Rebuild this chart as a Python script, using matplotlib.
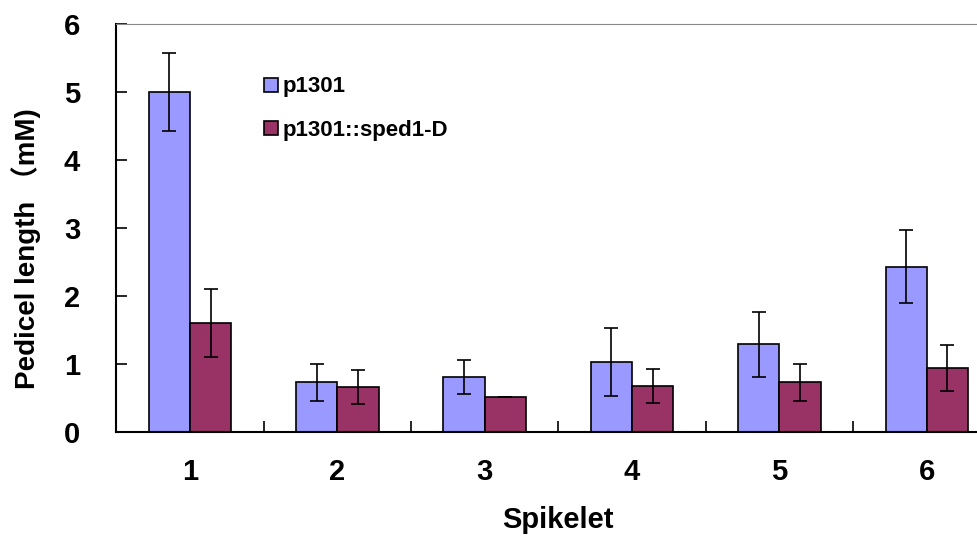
import matplotlib.pyplot as plt
import numpy as np

spikelets = ['1', '2', '3', '4', '5', '6']
p1301 = [5.0, 0.73, 0.81, 1.03, 1.29, 2.43]
p1301_err = [0.57, 0.27, 0.25, 0.50, 0.48, 0.54]
sped = [1.6, 0.66, 0.51, 0.68, 0.73, 0.94]
sped_err = [0.50, 0.25, 0.0, 0.25, 0.27, 0.34]

plt.rcParams['font.family'] = ['Liberation Sans', 'Noto Sans CJK SC']
plt.rcParams['font.weight'] = 'bold'

fig = plt.figure(figsize=(9.77, 5.4), dpi=100)
ax = fig.add_axes([0.119, 0.2, 0.905, 0.756])

x = np.arange(len(spikelets))
w = 0.28
ax.bar(x - w / 2, p1301, w, color='#9999FF', edgecolor='black', linewidth=1.2,
       label='p1301', zorder=2)
ax.bar(x + w / 2, sped, w, color='#993366', edgecolor='black', linewidth=1.2,
       label='p1301::sped1-D', zorder=2)
ax.errorbar(x - w / 2, p1301, yerr=p1301_err, fmt='none', ecolor='black',
            elinewidth=1.2, capsize=5, capthick=1.2, zorder=3)
ax.errorbar(x + w / 2, sped, yerr=sped_err, fmt='none', ecolor='black',
            elinewidth=1.2, capsize=5, capthick=1.2, zorder=3)

ax.set_xlim(-0.5, 5.5)
ax.set_ylim(0, 6)
ax.set_yticks(range(7))
ax.set_xticks(x)
ax.set_xticklabels(spikelets)
ax.set_xticks(x[:-1] + 0.5, minor=True)
ax.tick_params(axis='x', which='major', length=0, pad=19, labelsize=21)
ax.tick_params(axis='x', which='minor', direction='in', length=8, width=1.2)
ax.tick_params(axis='y', direction='in', length=8, width=1.2, pad=26, labelsize=21)

ax.spines['left'].set_linewidth(1.5)
ax.spines['bottom'].set_linewidth(1.5)
ax.spines['top'].set_color('#888888')
ax.spines['top'].set_linewidth(0.8)
ax.spines['right'].set_visible(False)

ax.set_ylabel('Pedicel length （mM)', fontsize=20, fontweight='bold')
ax.yaxis.set_label_coords(-0.085, 0.45)
ax.set_xlabel('Spikelet', fontsize=21, fontweight='bold', labelpad=14)

ax.legend(loc='upper left', bbox_to_anchor=(0.145, 0.92), frameon=False,
          fontsize=16, handlelength=0.6, handleheight=0.6, handletextpad=0.2,
          labelspacing=1.0)

fig.savefig('out.png', dpi=100)
